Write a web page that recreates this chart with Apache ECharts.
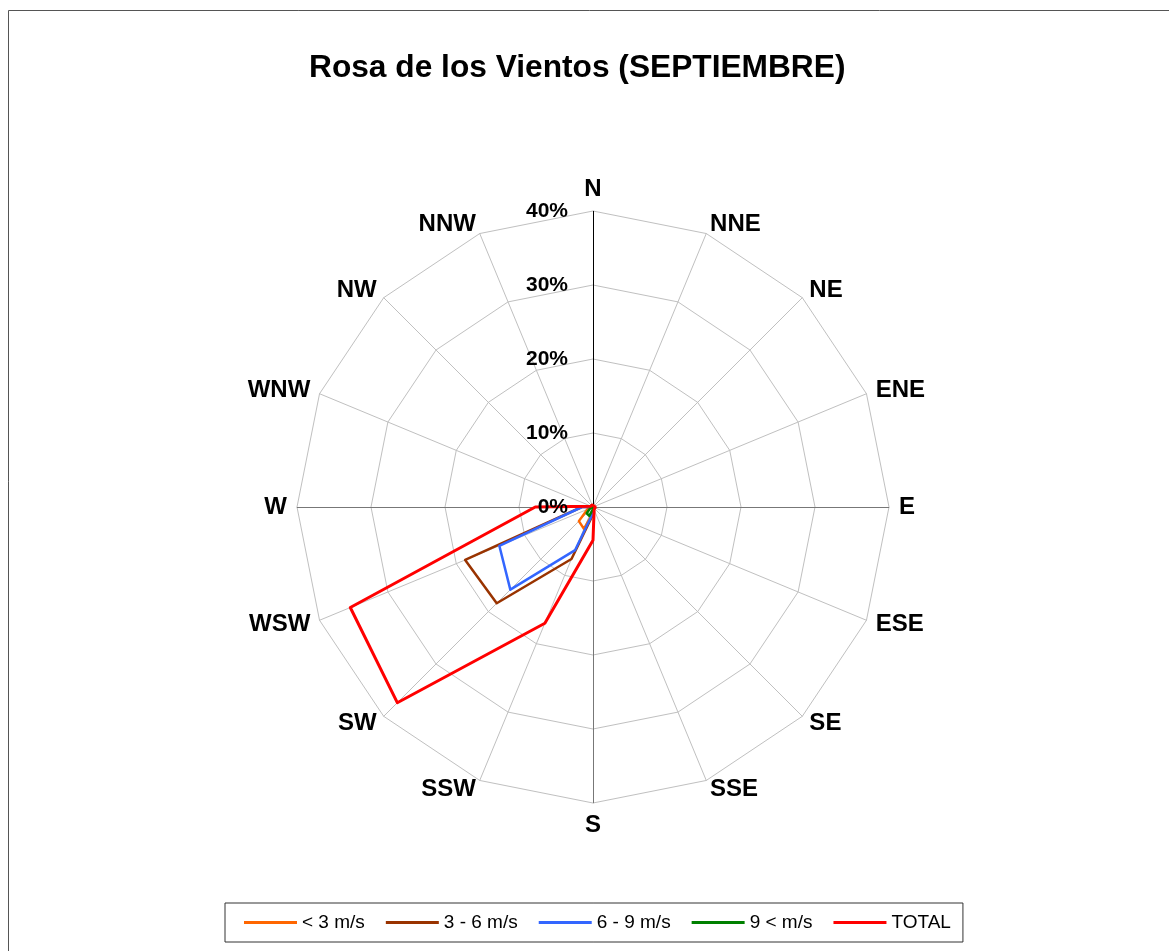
<!DOCTYPE html>
<html>
<head>
<meta charset="utf-8">
<script src="https://cdn.jsdelivr.net/npm/echarts@6/dist/echarts.min.js"></script>
<style>
  html, body { margin: 0; padding: 0; background: #fff; }
  #chart { width: 1169px; height: 951px; }
</style>
</head>
<body>
<div id="chart"></div>
<script>
// Wind directions, clockwise from North
const directions = ['N', 'NNE', 'NE', 'ENE', 'E', 'ESE', 'SE', 'SSE',
                    'S', 'SSW', 'SW', 'WSW', 'W', 'WNW', 'NW', 'NNW'];

// Frequency (%) per direction and speed class
const below3 = [0.1, 0.1, 0.1, 0.1, 0.1, 0.1, 0.1, 0.1, 0.8, 3.2, 2.7, 0.8, 0.3, 0.1, 0.1, 0.1];
const from3to6 = [0.1, 0.1, 0.1, 0.1, 0.1, 0.1, 0.1, 0.2, 1.0, 7.6, 18.4, 18.7, 1.5, 0.1, 0.1, 0.1];
const from6to9 = [0.1, 0.1, 0.1, 0.1, 0.1, 0.1, 0.1, 0.1, 0.8, 6.3, 15.8, 13.7, 1.5, 0.1, 0.1, 0.1];
const above9 = [0.1, 0.1, 0.1, 0.1, 0.1, 0.1, 0.1, 0.1, 0.3, 1.3, 1.2, 0.4, 0.1, 0.1, 0.1, 0.1];
const total = [0.2, 0.2, 0.2, 0.2, 0.3, 0.3, 0.3, 0.4, 4.5, 17.0, 37.4, 35.5, 7.8, 0.3, 0.3, 0.3];

const seriesNames = ['< 3 m/s', '3 - 6 m/s', '6 - 9 m/s', '9 < m/s', 'TOTAL'];
const seriesColors = ['#FF6600', '#993300', '#3366FF', '#008000', '#FF0000'];

const MAX = 40;
const CX = 593, CY = 507, R = 296;

// ECharts lays radar indicators out counter-clockwise; reverse to go clockwise
const order = directions.map((d, i) => (directions.length - i) % directions.length);
const reorder = arr => order.map(i => arr[i]);

const chart = echarts.init(document.getElementById('chart'));

const values = [below3, from3to6, from6to9, above9, total];

chart.setOption({
  backgroundColor: '#fff',
  animation: false,
  textStyle: { fontFamily: 'Liberation Sans, Arial, sans-serif' },
  title: {
    text: 'Rosa de los Vientos (SEPTIEMBRE)',
    left: 304,
    top: 47,
    textStyle: { fontSize: 31.7, fontWeight: 'bold', color: '#000' }
  },
  legend: {
    data: seriesNames,
    left: 225,
    top: 903,
    orient: 'horizontal',
    itemWidth: 53,
    itemHeight: 3,
    itemGap: 21,
    icon: 'rect',
    padding: [10, 12, 10, 19],
    borderColor: '#333',
    borderWidth: 1,
    textStyle: { fontSize: 19, color: '#000' }
  },
  radar: {
    center: [CX, CY],
    radius: R,
    shape: 'polygon',
    splitNumber: 4,
    startAngle: 90,
    indicator: reorder(directions).map(n => ({ name: n, max: MAX, min: 0 })),
    axisName: { color: '#000', fontSize: 24, fontWeight: 'bold' },
    nameGap: 10,
    axisLine: { lineStyle: { color: '#c0c0c0', width: 1 } },
    splitLine: { lineStyle: { color: '#c0c0c0', width: 1 } },
    splitArea: { show: false }
  },
  polar: { center: [CX, CY], radius: R },
  angleAxis: { show: false, startAngle: 90, min: 0, max: 360 },
  radiusAxis: {
    min: 0,
    max: MAX,
    interval: 10,
    z: 5,
    axisLine: { show: false },
    axisTick: { show: false },
    splitLine: { show: false },
    axisLabel: {
      formatter: '{value}%',
      fontSize: 21,
      fontWeight: 'bold',
      color: '#000',
      margin: 25
    }
  },
  graphic: [
    {
      type: 'rect',
      shape: { x: 8.5, y: 10.5, width: 1200, height: 1000 },
      style: { fill: 'none', stroke: '#555', lineWidth: 1 },
      silent: true
    },
    {
      type: 'line',
      shape: { x1: CX - R, y1: CY + 0.5, x2: CX + R, y2: CY + 0.5 },
      style: { stroke: '#777', lineWidth: 1 },
      z: 1, silent: true
    },
    {
      type: 'line',
      shape: { x1: CX + 0.5, y1: CY, x2: CX + 0.5, y2: CY + R },
      style: { stroke: '#777', lineWidth: 1 },
      z: 1, silent: true
    },
    {
      type: 'line',
      shape: { x1: CX + 0.5, y1: CY - R, x2: CX + 0.5, y2: CY },
      style: { stroke: '#000', lineWidth: 1 },
      z: 1, silent: true
    }
  ],
  series: seriesNames.map((name, i) => ({
    type: 'radar',
    name: name,
    symbol: 'none',
    z: 3,
    lineStyle: { color: seriesColors[i], width: i === 4 ? 3 : 2.5 },
    itemStyle: { color: seriesColors[i] },
    data: [{ value: reorder(values[i]), name: name }]
  }))
});
</script>
</body>
</html>
